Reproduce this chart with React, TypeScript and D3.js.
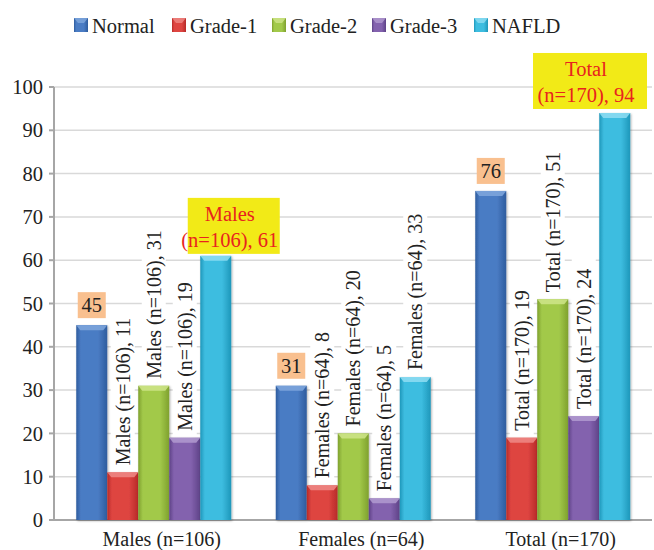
import React from 'react';
import * as d3 from 'd3';

const groups = ['Males (n=106)', 'Females (n=64)', 'Total (n=170)'];
const series = ['Normal', 'Grade-1', 'Grade-2', 'Grade-3', 'NAFLD'];
const normal = [45, 31, 76];
const grade1 = [11, 8, 19];
const grade2 = [31, 20, 51];
const grade3 = [19, 5, 24];
const nafld = [61, 33, 94];
const yTicks = [0, 10, 20, 30, 40, 50, 60, 70, 80, 90, 100];

const values = [normal, grade1, grade2, grade3, nafld];
// [dark edge, light centre, top bevel]
const colors: [string, string, string][] = [
  ['#2E5C9E', '#4A7CC4', '#7FA7DD'],
  ['#B72A28', '#DE4541', '#EE8A86'],
  ['#7FA12E', '#A2C94A', '#CFE58A'],
  ['#5E4287', '#8362AE', '#B29BD0'],
  ['#1E97BA', '#3DBDE0', '#8FDDF2'],
];

const W = 654;
const H = 550;
const FONT = 'Liberation Serif';

export default function App() {
  const x = d3.scaleBand<string>().domain(groups).range([54, 652.5]);
  const y = d3.scaleLinear().domain([0, 100]).range([520, 87]);
  const barW = 31;

  const inner = (g: string) => {
    const c = x(g)! + x.bandwidth() / 2;
    return d3
      .scaleBand<string>()
      .domain(series)
      .range([c - (barW * 5) / 2, c + (barW * 5) / 2]);
  };

  return (
    <svg width={W} height={H} style={{ display: 'block', position: 'absolute', left: 0, top: 0 }}>
      <defs>
        {colors.map((c, i) => (
          <linearGradient key={i} id={`g${i}`} x1="0" x2="1" y1="0" y2="0">
            <stop offset="0%" stopColor={c[0]} />
            <stop offset="15%" stopColor={c[1]} />
            <stop offset="70%" stopColor={c[1]} />
            <stop offset="100%" stopColor={c[0]} />
          </linearGradient>
        ))}
        <filter id="sh" x="-20%" y="-5%" width="140%" height="110%">
          <feDropShadow dx="1" dy="1" stdDeviation="1.2" floodColor="#000" floodOpacity="0.3" />
        </filter>
      </defs>
      <rect width={W} height={H} fill="#fff" />

      {/* legend */}
      {series.map((s, i) => {
        const lx = [74, 172, 272, 372, 474][i];
        return (
          <g key={s}>
            <rect x={lx} y={18} width={14} height={14} fill={`url(#g${i})`} />
            <polygon points={`${lx},18 ${lx + 14},18 ${lx + 10},23 ${lx + 4},23`} fill={colors[i][2]} opacity={0.8} />
            <text x={lx + 18} y={33} fontFamily={FONT} fontSize={20.5} fill="#222">{s}</text>
          </g>
        );
      })}

      {/* grid */}
      {yTicks.slice(1).map(t => (
        <line key={t} x1={54} x2={652} y1={y(t)} y2={y(t)} stroke="#D9D9D9" strokeWidth={1.5} />
      ))}

      {/* axes */}
      <line x1={54} x2={54} y1={y(100)} y2={y(0)} stroke="#A6A6A6" strokeWidth={2} />
      <line x1={54} x2={652} y1={y(0)} y2={y(0)} stroke="#A6A6A6" strokeWidth={2} />
      {yTicks.map(t => (
        <g key={t}>
          <line x1={49} x2={54} y1={y(t)} y2={y(t)} stroke="#A6A6A6" strokeWidth={2} />
          <text x={43} y={y(t)} dy="0.35em" textAnchor="end" fontFamily={FONT} fontSize={20.5} fill="#222">{t}</text>
        </g>
      ))}
      {groups.map(g => (
        <text key={g} x={x(g)! + x.bandwidth() / 2 + 8} y={546} textAnchor="middle" fontFamily={FONT} fontSize={20} fill="#222">
          {g}
        </text>
      ))}

      {/* bars */}
      {groups.map((g, gi) => {
        const xs = inner(g);
        return series.map((s, si) => {
          const v = values[si][gi];
          const bx = xs(s)!;
          const by = y(v);
          const bh = y(0) - by;
          return (
            <g key={`${g}-${s}`} filter="url(#sh)">
              <rect x={bx} y={by} width={barW} height={bh} fill={`url(#g${si})`} />
              <polygon
                points={`${bx},${by} ${bx + barW},${by} ${bx + barW - 4},${by + 5} ${bx + 4},${by + 5}`}
                fill={colors[si][2]}
                opacity={0.85}
              />
            </g>
          );
        });
      })}

      {/* labels */}
      {groups.map((g, gi) => {
        const xs = inner(g);
        return series.map((s, si) => {
          const v = values[si][gi];
          const cx = xs(s)! + barW / 2;
          const by = y(v);
          if (si === 0) {
            return (
              <g key={`l-${g}-${s}`}>
                <rect x={cx - 14} y={by - 33} width={28} height={26} fill="#F9C08F" />
                <text x={cx} y={by - 13} textAnchor="middle" fontFamily={FONT} fontSize={20.5} fill="#222">{v}</text>
              </g>
            );
          }
          if (si === 4 && gi !== 1) {
            const [name, n] = g.split(' ');
            const bw = gi === 0 ? 92 : 114;
            const bcx = gi === 0 ? cx + 18 : Math.min(cx + 15, 647 - bw / 2);
            const top = gi === 0 ? by - 58 : by - 60;
            return (
              <g key={`l-${g}-${s}`}>
                <rect x={bcx - bw / 2} y={top} width={bw} height={56} fill="#F2EA17" />
                <text x={bcx - 4} y={top + 23} textAnchor="middle" fontFamily={FONT} fontSize={20.5} fill="#E8231E">{name}</text>
                <text x={bcx - 4} y={top + 49} textAnchor="middle" fontFamily={FONT} fontSize={20.5} fill="#E8231E">{`${n}, ${v}`}</text>
              </g>
            );
          }
          const label = `${g}, ${v}`;
          const len = label.length * 8.9 + 8;
          return (
            <g key={`l-${g}-${s}`}>
              <rect x={cx - 12} y={by - 4 - len} width={24} height={len + 2} fill="#fff" />
              <text
                transform={`translate(${cx + 7},${by - 7}) rotate(-90)`}
                fontFamily={FONT}
                fontSize={20}
                fill="#222"
              >
                {label}
              </text>
            </g>
          );
        });
      })}
    </svg>
  );
}
